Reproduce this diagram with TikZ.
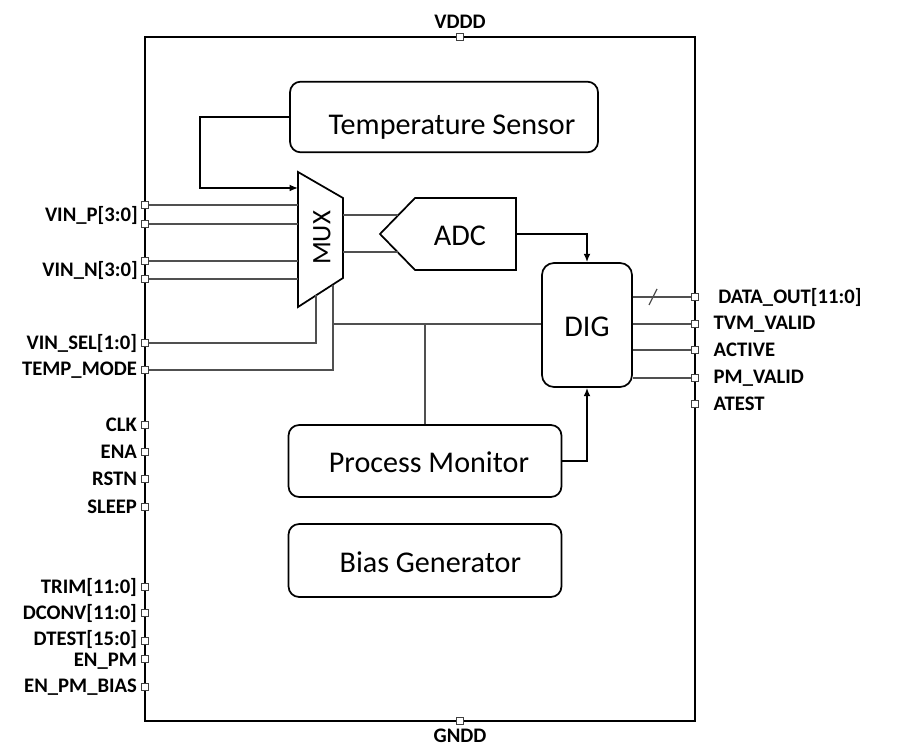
\documentclass[tikz,border=0pt]{standalone}
\usepackage{fontspec}
\setmainfont{Carlito}
\usetikzlibrary{
  arrows.meta,
  positioning,
}
\definecolor{wire}{HTML}{505050}
\tikzset{
  chipbox/.style={
    rectangle, draw=black, line width=1.3pt, inner sep=0pt,
  },
  block/.style={
    rectangle, rounded corners=8pt, draw=black, line width=1.3pt,
    fill=white, inner sep=0pt, align=center,
    text height=18pt, text depth=0pt,
    font=\fontsize{22.6}{26}\selectfont,
  },
  blocktext/.style={
    inner sep=0pt, font=\fontsize{22.6}{26}\selectfont,
  },
  padbox/.style={
    rectangle, draw=black!75, line width=0.7pt, fill=white,
    minimum size=5pt, inner sep=0pt,
  },
  padlabel/.style={
    inner sep=0pt, font=\bfseries\fontsize{15.5}{18}\selectfont,
  },
  shapeline/.style={
    draw=black, line width=1.3pt, fill=white, line join=miter,
  },
  sig/.style={
    draw=wire, line width=0.9pt,
  },
  sigarrow/.style={
    -{Latex[length=2.2mm,width=1.8mm]}, draw=black, line width=1.1pt,
  },
}

\begin{document}
\begin{tikzpicture}[x=0.75pt, y=-0.75pt]
\useasboundingbox (0,0) rectangle (907,755);

% Chip outline
\node[chipbox, minimum width=412.5pt, minimum height=513pt] (chip) at (420,379) {};

% Supply pads
\node[padbox] (pinvddd) at (460,37) {};
\node[padbox] (pingndd) at (460,721) {};
\node[padlabel, above=3pt of pinvddd] (lvddd) {VDDD};
\node[padlabel, below=3pt of pingndd] (lgndd) {GNDD};

% Left pads
\foreach \nm/\yy in {vp1/205, vp2/224, vn1/261, vn2/279}
  \node[padbox] (pin\nm) at (145,\yy) {};
\node[padlabel, anchor=east] (lvinp) at (138,215) {VIN\_P[3:0]};
\node[padlabel, anchor=east] (lvinn) at (138,270) {VIN\_N[3:0]};
\foreach \nm/\yy/\txt in {sel/343/VIN\_SEL[1:0], tmode/370/TEMP\_MODE,
    clk/425/CLK, ena/452/ENA, rstn/479/RSTN, sleep/507/SLEEP,
    trim/587/TRIM[11:0], dconv/613/DCONV[11:0], enpmb/687/EN\_PM\_BIAS}
{
  \node[padbox] (pin\nm) at (145,\yy) {};
  \node[padlabel, left=3pt of pin\nm] (l\nm) {\txt};
}
% these two sit close together
\node[padbox] (pindtest) at (145,641) {};
\node[padbox] (pinenpm) at (145,659) {};
\node[padlabel, left=3pt of pindtest, yshift=1.5pt] (ldtest) {DTEST[15:0]};
\node[padlabel, left=3pt of pinenpm, yshift=-1.5pt] (lenpm) {EN\_PM};

% Right pads
\foreach \nm/\yy/\txt in {tvm/324/TVM\_VALID, act/350/ACTIVE,
    pmv/378/PM\_VALID, atest/404/ATEST}
{
  \node[padbox] (pin\nm) at (695,\yy) {};
  \node[padlabel, right=11pt of pin\nm] (l\nm) {\txt};
}
\node[padbox] (pindout) at (695,297) {};
\node[padlabel, right=14.5pt of pindout] (ldout) {DATA\_OUT[11:0]};

% Blocks
\node[block, minimum width=231pt, minimum height=53pt, text height=27pt]
   (ts) at (444,117) {\hspace*{12pt}Temperature Sensor};
\node[block, rounded corners=9pt, minimum width=67.5pt, minimum height=93pt]
   (dig) at (587,325) {DIG};
\node[block, minimum width=204.75pt, minimum height=54pt] (pm) at (425,461)
   {\hspace*{6pt}Process Monitor};
\node[block, minimum width=204.75pt, minimum height=54.75pt] (bias) at (425,560.5)
   {\hspace*{8pt}Bias Generator};

% MUX
\coordinate (muxTL) at (298,172);
\coordinate (muxTR) at (343,198);
\coordinate (muxBR) at (343,278);
\coordinate (muxBL) at (298,307);
\draw[shapeline] (muxTL) -- (muxTR) -- (muxBR) -- (muxBL) -- cycle;
\node[blocktext, rotate=90, font=\fontsize{20}{24}\selectfont] (mux) at (322,238) {MUX};

% ADC
\coordinate (adcTip) at (380,234);
\coordinate (adcTL) at (415,198);
\coordinate (adcTR) at (516,198);
\coordinate (adcBR) at (516,270);
\coordinate (adcBL) at (415,270);
\draw[shapeline] (adcTip) -- (adcTL) -- (adcTR) -- (adcBR) -- (adcBL) -- cycle;
\node[blocktext] (adc) at (460,236) {ADC};

% Inputs into MUX
\foreach \nm in {vp1,vp2,vn1,vn2}
  \draw[sig] (pin\nm) -- (pin\nm -| muxTL);
\coordinate (muxTin) at (298,188);
\draw[sigarrow] (ts.west) -| (200,188) -- (muxTin);

% MUX to ADC
\coordinate (muxO1) at (343,215);
\coordinate (muxO2) at (343,252);
\coordinate (adcI1) at (398,215);
\coordinate (adcI2) at (398,252);
\draw[sig] (muxO1) -- (adcI1);
\draw[sig] (muxO2) -- (adcI2);

% ADC to DIG
\coordinate (adcR) at (516,234);
\draw[sigarrow] (adcR) -| (dig.north);

% Select and mode lines
\coordinate (muxS1) at (316,295);
\coordinate (muxS2) at (333,285);
\coordinate (tap) at (333,324);
\draw[sig] (pinsel) -| (muxS1);
\draw[sig] (pintmode) -| (muxS2);
\draw[sig] (tap) -- (tap -| dig.west);
\draw[sig] (pm.north) -- (pm.north |- tap);

% Process Monitor to DIG
\draw[sigarrow] (pm.east) -| (dig.south);

% DIG outputs
\foreach \nm in {dout,tvm,act,pmv}
  \draw[sig] (dig.east |- pin\nm) -- (pin\nm);
\draw[sig] (653,297) ++(-4,8) -- ++(8,-16);

\end{tikzpicture}
\end{document}
